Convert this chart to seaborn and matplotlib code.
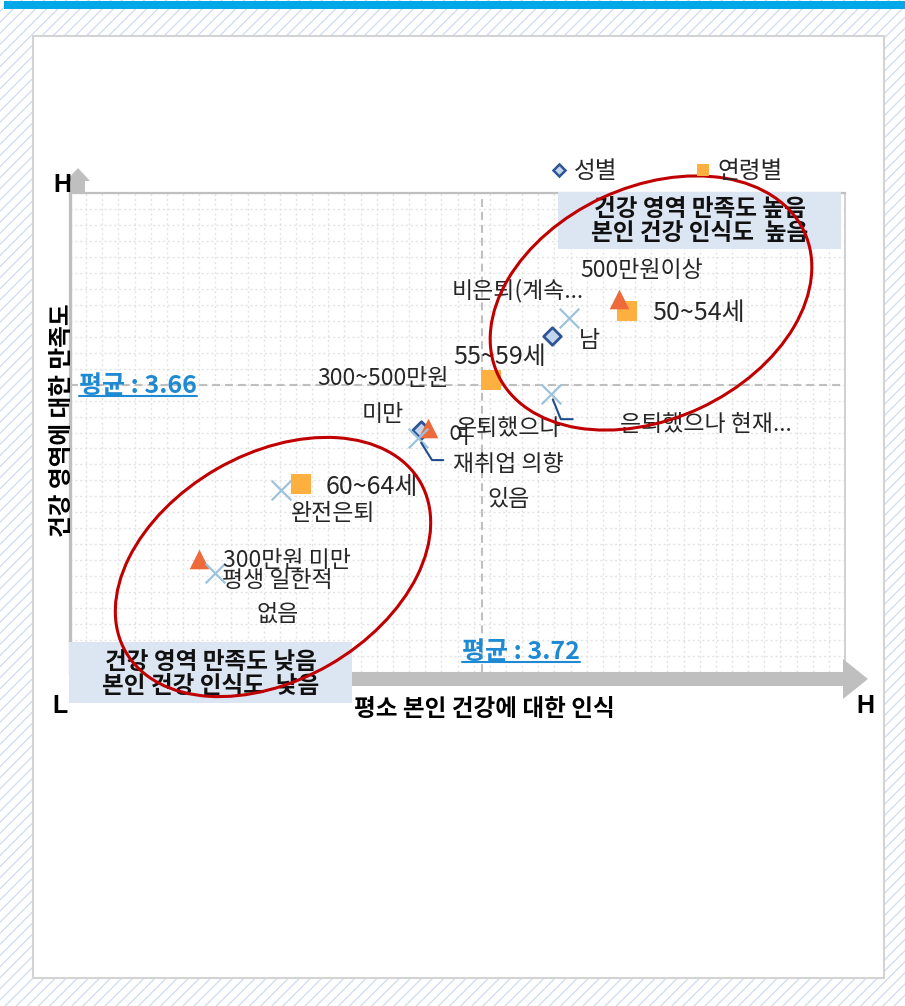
import matplotlib
matplotlib.use("Agg")
import matplotlib.pyplot as plt
import matplotlib.patches as mpatches
import matplotlib.transforms as mtransforms
from matplotlib.lines import Line2D
import numpy as np
import pandas as pd
import seaborn as sns

# ─── Data ─────────────────────────────────────────────────────────────────────
GENDER   = ["남", "여"]
GENDER_X = [3.791, 3.658]
GENDER_Y = [3.721, 3.603]

AGE   = ["50~54세", "55~59세", "60~64세"]
AGE_X = [3.868, 3.729, 3.535]
AGE_Y = [3.752, 3.666, 3.535]

INCOME   = ["500만원이상", "300~500만원\n미만", "300만원 미만"]
INCOME_X = [3.860, 3.665, 3.431]
INCOME_Y = [3.767, 3.606, 3.442]

RETIRE   = ["비은퇴(계속...", "은퇴했으나 현재...", "은퇴했으나\n재취업 의향\n있음",
            "완전은퇴", "평생 일한적\n없음"]
RETIRE_X = [3.809, 3.790, 3.655, 3.515, 3.448]
RETIRE_Y = [3.743, 3.648, 3.593, 3.528, 3.424]

MEAN_X = 3.72
MEAN_Y = 3.66
XLIM = (3.30, 4.09)
YLIM = (3.30, 3.90)

LEGEND_NAMES = ["성별", "연령별"]

# ─── Layout / style ───────────────────────────────────────────────────────────
W, H = 905, 1006
C_DIAMOND_FILL = "#C3D4EC"
C_DIAMOND_EDGE = "#2F5597"
C_SQUARE   = "#FDB03F"
C_TRIANGLE = "#EE6A3A"
C_CROSS    = "#9DC3DC"
C_LEADER   = "#1F4E8C"
C_ELLIPSE  = "#C00000"
C_BOX      = "#DCE6F2"
C_MEAN_TXT = "#1E8AD3"
C_AXIS     = "#BFBFBF"
C_TEXT     = "#262626"
C_HATCH    = "#CFDBEE"

# label offsets in pixels: (dx, dy up, ha, fontsize)
LABEL_LAYOUT = {
    "남":               (27, -5, "left", 16.5),
    "여":               (27, -6, "left", 16.5),
    "50~54세":          (25, -2, "left", 18),
    "55~59세":          (9, 23, "center", 18),
    "60~64세":          (25, -3, "left", 18),
    "500만원이상":       (22, 29, "center", 16.5),
    "300~500만원\n미만": (-45, 31, "center", 16.5),
    "300만원 미만":      (24, -2, "left", 16.5),
    "비은퇴(계속...":     (-52, 28, "center", 16.5),
    "은퇴했으나 현재...":  (155, -30, "center", 16.5),
    "은퇴했으나\n재취업 의향\n있음": (90, -26, "center", 16.5),
    "완전은퇴":          (52, -24, "center", 16.5),
    "평생 일한적\n없음":   (62, -25, "center", 16.5),
}
# leader lines: label -> (end dx, end dy up, angleB)
LEADERS = {
    "은퇴했으나 현재...": (22, -25, 112),
    "은퇴했으나\n재취업 의향\n있음": (25, -22, 122),
}

sns.set_theme(style="white")
plt.rcParams["font.family"] = ["Noto Sans CJK KR", "DejaVu Sans"]
plt.rcParams["hatch.linewidth"] = 0.9
plt.rcParams["hatch.color"] = C_HATCH

fig = plt.figure(figsize=(W / 100, H / 100), dpi=100)
# pixel coordinates, origin at top-left
PX = mtransforms.Affine2D().scale(1 / W, -1 / H).translate(0, 1) + fig.transFigure


def px_rect(x0, y0, x1, y1, **kw):
    r = mpatches.Rectangle((x0, y0), x1 - x0, y1 - y0, transform=PX, **kw)
    fig.add_artist(r)
    return r


# ─── Page background ──────────────────────────────────────────────────────────
px_rect(0, 0, W, H, facecolor="white", edgecolor=C_HATCH, hatch="///", lw=0, zorder=-10)
px_rect(4, 1, W, 9, facecolor="#00A8E8", lw=0, zorder=-9)
px_rect(33, 36, 884, 978, facecolor="white", edgecolor="#D3D3D3", lw=1.5, zorder=-8)

# ─── Axes ─────────────────────────────────────────────────────────────────────
ax = fig.add_axes([70 / W, 1 - 672 / H, 775 / W, 479 / H])
ax.set_facecolor("none")
ax.set_xlim(*XLIM)
ax.set_ylim(*YLIM)
ax.set_xticks(np.linspace(XLIM[0], XLIM[1], 49))
ax.set_yticks(np.linspace(YLIM[0], YLIM[1], 31))
ax.tick_params(length=0, labelbottom=False, labelleft=False)
ax.grid(True, color="#E3E3E3", lw=1.0, ls=(0, (1.5, 2)))
ax.set_axisbelow(True)
for side, lw, col in [("top", 1.6, C_AXIS), ("left", 2.4, C_AXIS), ("right", 1.4, "#D0D0D0")]:
    ax.spines[side].set_color(col)
    ax.spines[side].set_linewidth(lw)
ax.spines["bottom"].set_visible(False)

ax.axvline(MEAN_X, color=C_AXIS, lw=1.5, ls=(0, (3.8, 2.4)), zorder=1)
ax.axhline(MEAN_Y, color=C_AXIS, lw=1.5, ls=(0, (3.8, 2.4)), zorder=1)

df_g = pd.DataFrame({"x": GENDER_X, "y": GENDER_Y})
df_a = pd.DataFrame({"x": AGE_X, "y": AGE_Y})
df_i = pd.DataFrame({"x": INCOME_X, "y": INCOME_Y})
df_r = pd.DataFrame({"x": RETIRE_X, "y": RETIRE_Y})

sns.scatterplot(data=df_g, x="x", y="y", marker="D", s=80, color=C_DIAMOND_FILL,
                edgecolor=C_DIAMOND_EDGE, linewidth=2, ax=ax, zorder=3, legend=False)
sns.scatterplot(data=df_a, x="x", y="y", marker="s", s=200, color=C_SQUARE,
                linewidth=0, ax=ax, zorder=3, legend=False)
sns.scatterplot(data=df_i, x="x", y="y", marker="^", s=200, color=C_TRIANGLE,
                linewidth=0, ax=ax, zorder=3, legend=False)
sns.scatterplot(data=df_r, x="x", y="y", marker="x", s=200, color=C_CROSS,
                linewidth=1.6, ax=ax, zorder=3, legend=False)
ax.set_xlabel("")
ax.set_ylabel("")

# data labels
for names, xs, ys in [(GENDER, GENDER_X, GENDER_Y), (AGE, AGE_X, AGE_Y),
                      (INCOME, INCOME_X, INCOME_Y), (RETIRE, RETIRE_X, RETIRE_Y)]:
    for name, x, y in zip(names, xs, ys):
        dx, dy, ha, fs = LABEL_LAYOUT[name]
        ax.annotate(name, xy=(x, y), xytext=(dx, dy), textcoords="offset pixels",
                    ha=ha, va="center", fontsize=fs, color=C_TEXT,
                    linespacing=1.7, zorder=4, annotation_clip=False)
        if name in LEADERS:
            ex, ey, angb = LEADERS[name]
            ax.annotate("", xy=(x, y), xytext=(ex, ey), textcoords="offset pixels",
                        arrowprops=dict(arrowstyle="-", color=C_LEADER, lw=1.5,
                                        shrinkA=0, shrinkB=4,
                                        connectionstyle=f"angle,angleA=0,angleB={angb},rad=0"),
                        zorder=4)

# mean labels (underlined)
mean_texts = [
    ax.annotate(f"평균 : {MEAN_Y:.2f}", xy=(XLIM[0], MEAN_Y), xytext=(9, -1),
                textcoords="offset pixels", ha="left", va="center", fontsize=18,
                weight="bold", color=C_MEAN_TXT, zorder=5),
    ax.annotate(f"평균 : {MEAN_X:.2f}", xy=(MEAN_X, YLIM[0]), xytext=(39, 20),
                textcoords="offset pixels", ha="center", va="center", fontsize=18,
                weight="bold", color=C_MEAN_TXT, zorder=5),
]

# ─── Axis arrows, labels ──────────────────────────────────────────────────────
fig.add_artist(mpatches.FancyArrow(70, 679, 798, 0, width=14, head_width=40, head_length=25,
                                   length_includes_head=True, transform=PX,
                                   color=C_AXIS, lw=0, zorder=1))
fig.add_artist(mpatches.FancyArrow(78, 193, 0, -25, width=14, head_width=24, head_length=13,
                                   length_includes_head=True, transform=PX,
                                   color=C_AXIS, lw=0, zorder=1))

fig.text(484, 709, "평소 본인 건강에 대한 인식", transform=PX, ha="center", va="center",
         fontsize=17, weight="bold", color="black")
fig.text(62, 420, "건강 영역에 대한 만족도", transform=PX, ha="center", va="center",
         rotation=90, fontsize=17, weight="bold", color="black")
for x, y, s in [(62, 185, "H"), (60, 706, "L"), (865, 706, "H")]:
    fig.text(x, y, s, transform=PX, ha="center", va="center", fontsize=18,
             weight="bold", family=["Liberation Sans"], color="black")

# quadrant boxes
px_rect(558, 192, 841, 249, facecolor=C_BOX, lw=0, zorder=2)
fig.text(700, 221, "건강 영역 만족도 높음\n본인 건강 인식도  높음", transform=PX,
         ha="center", va="center", fontsize=17, weight="bold", linespacing=0.95,
         color="#111111", zorder=3)
px_rect(69, 642, 352, 703, facecolor=C_BOX, lw=0, zorder=2)
fig.text(211, 674, "건강 영역 만족도 낮음\n본인 건강 인식도  낮음", transform=PX,
         ha="center", va="center", fontsize=17, weight="bold", linespacing=0.95,
         color="#111111", zorder=3)

# highlight ellipses
for cx, cy, w, h, ang in [(651, 303, 338, 232, -25), (273, 567, 340, 226, -30)]:
    fig.add_artist(mpatches.Ellipse((cx, cy), w, h, angle=ang, transform=PX,
                                    fill=False, edgecolor=C_ELLIPSE, lw=2.2, zorder=4))

# legend (only first two series visible in the reference)
handles = [
    Line2D([], [], ls="", marker="D", markersize=6, markerfacecolor=C_DIAMOND_FILL,
           markeredgecolor=C_DIAMOND_EDGE, markeredgewidth=1.8),
    Line2D([], [], ls="", marker="s", markersize=9, markerfacecolor=C_SQUARE,
           markeredgewidth=0),
]
fig.legend(handles, LEGEND_NAMES, loc="center left", ncol=2, frameon=False,
           bbox_to_anchor=(551 / W, 1 - 172 / H), borderpad=0, borderaxespad=0,
           handlelength=0.7, handletextpad=0.25, columnspacing=3.3, prop={"size": 17})

# underline the mean labels
fig.canvas.draw()
inv = fig.transFigure.inverted()
for t in mean_texts:
    bb = t.get_window_extent()
    (x0, y0), (x1, _) = inv.transform([(bb.x0, bb.y0 + 2), (bb.x1, bb.y0 + 2)])
    fig.add_artist(Line2D([x0, x1], [y0, y0], transform=fig.transFigure,
                          color=C_MEAN_TXT, lw=1.5, zorder=5))

fig.savefig("out.png", dpi=100)
